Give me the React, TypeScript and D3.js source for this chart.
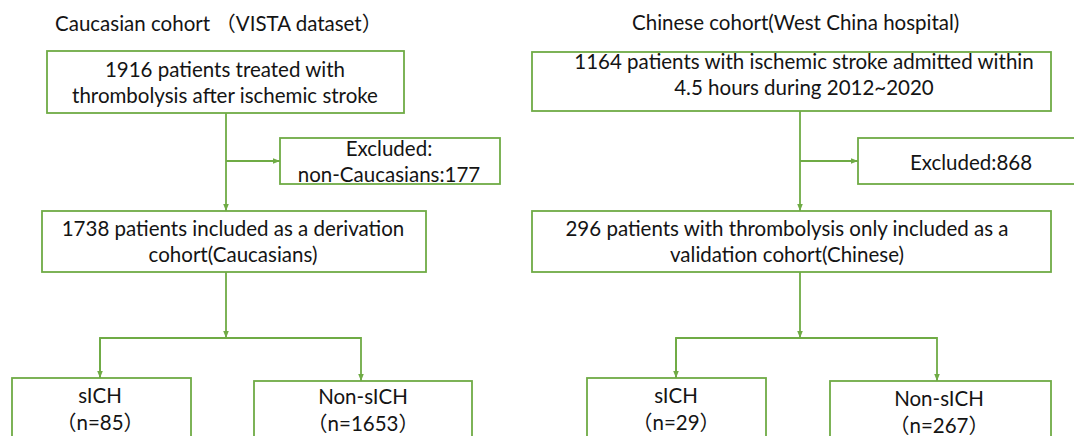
import * as d3 from "d3";

// cohort data (left = VISTA, right = West China)
const cohortTitles = ["Caucasian cohort （VISTA dataset）", "Chinese cohort(West China hospital)"];
const totalCounts = [1916, 1164];
const excludedCounts = [177, 868];
const includedCounts = [1738, 296];
const sichCounts = [85, 29];
const nonSichCounts = [1653, 267];

const topLines = [
  [`${totalCounts[0]} patients treated with`, "thrombolysis after ischemic stroke"],
  [`${totalCounts[1]} patients with ischemic stroke admitted within`, "4.5 hours during 2012~2020"],
];
const excludedLines = [
  ["Excluded:", `non-Caucasians:${excludedCounts[0]}`],
  [`Excluded:${excludedCounts[1]}`],
];
const includedLines = [
  [`${includedCounts[0]} patients included as a derivation`, "cohort(Caucasians)"],
  [`${includedCounts[1]} patients with thrombolysis only included as a`, "validation cohort(Chinese)"],
];

// layout of each panel
const panels = [
  {
    titleX: 55, titleY: 31,
    top: { x: 47, y: 51, w: 357, h: 62, tx: 225, ty: [77, 103] },
    excl: { x: 280, y: 138, w: 220, h: 46, tx: 389, ty: [156, 182] },
    inc: { x: 42, y: 211, w: 384, h: 61, tx: 233, ty: [236, 262] },
    trunk: 226, branchY: 161, splitY: 338,
    sich: { x: 12, y: 378, w: 179, h: 80, tx: 100, ty: [403, 430], arrow: 100 },
    non: { x: 254, y: 381, w: 218, h: 80, tx: 363, ty: [404, 431], arrow: 361 },
  },
  {
    titleX: 632, titleY: 30,
    top: { x: 532, y: 52, w: 519, h: 59, tx: 804, ty: [69, 95] },
    excl: { x: 858, y: 138, w: 240, h: 46, tx: 971, ty: [170] },
    inc: { x: 532, y: 211, w: 519, h: 61, tx: 787, ty: [236, 262] },
    trunk: 800, branchY: 161, splitY: 338,
    sich: { x: 587, y: 378, w: 179, h: 80, tx: 676, ty: [403, 430], arrow: 676 },
    non: { x: 830, y: 381, w: 221, h: 80, tx: 939, ty: [406, 433], arrow: 937 },
  },
];

const green = "#6fab45";
const ink = "#141414";
const font = "Lato, 'Noto Sans CJK SC', sans-serif";
const fs = 20.5;

function Box(props: any) {
  const b = props.box;
  return (
    <g>
      <rect x={b.x} y={b.y} width={b.w} height={b.h} fill="white" stroke={green} strokeWidth={1.8} />
      {props.lines.map((t: string, i: number) => (
        <text key={i} x={b.tx} y={b.ty[i]} textAnchor="middle" fontSize={fs} fill={ink}>
          {t}
        </text>
      ))}
    </g>
  );
}

function Panel(props: any) {
  const i = props.index;
  const p = panels[i];

  // connectors built with d3.path
  const down1 = d3.path();
  down1.moveTo(p.trunk, p.top.y + p.top.h);
  down1.lineTo(p.trunk, p.inc.y);
  const side = d3.path();
  side.moveTo(p.trunk, p.branchY);
  side.lineTo(p.excl.x, p.branchY);
  const down2 = d3.path();
  down2.moveTo(p.trunk, p.inc.y + p.inc.h);
  down2.lineTo(p.trunk, p.splitY);
  const split = d3.path();
  split.moveTo(p.sich.arrow, p.sich.y);
  split.lineTo(p.sich.arrow, p.splitY);
  split.lineTo(p.non.arrow, p.splitY);
  split.lineTo(p.non.arrow, p.non.y);
  const leftLeg = d3.path();
  leftLeg.moveTo(p.sich.arrow, p.splitY);
  leftLeg.lineTo(p.sich.arrow, p.sich.y);

  return (
    <g>
      <text x={p.titleX} y={p.titleY} fontSize={fs} fill={ink}>{cohortTitles[i]}</text>
      <path d={down1.toString()} stroke={green} strokeWidth={1.8} fill="none" markerEnd="url(#arr)" />
      <path d={side.toString()} stroke={green} strokeWidth={1.8} fill="none" markerEnd="url(#arr)" />
      <path d={down2.toString()} stroke={green} strokeWidth={1.8} fill="none" markerEnd="url(#arr)" />
      <path d={split.toString()} stroke={green} strokeWidth={1.8} fill="none" markerEnd="url(#arr)" />
      <path d={leftLeg.toString()} stroke={green} strokeWidth={1.8} fill="none" markerEnd="url(#arr)" />
      <Box box={p.top} lines={topLines[i]} />
      <Box box={p.excl} lines={excludedLines[i]} />
      <Box box={p.inc} lines={includedLines[i]} />
      <Box box={p.sich} lines={["sICH", `（n=${sichCounts[i]}）`]} />
      <Box box={p.non} lines={["Non-sICH", `（n=${nonSichCounts[i]}）`]} />
    </g>
  );
}

export default function App() {
  return (
    <div style={{ position: "absolute", left: 0, top: 0, width: 1074, height: 436, overflow: "hidden", background: "white" }}>
      <svg width={1074} height={436} style={{ display: "block", fontFamily: font }}>
        <defs>
          <marker id="arr" viewBox="0 0 10 10" refX={10} refY={5} markerWidth={7} markerHeight={7} markerUnits="userSpaceOnUse" orient="auto">
            <path d="M0,1 L10,5 L0,9 z" fill={green} />
          </marker>
        </defs>
        <rect width={1074} height={436} fill="white" />
        {panels.map((p, i) => <Panel key={i} index={i} />)}
      </svg>
    </div>
  );
}
